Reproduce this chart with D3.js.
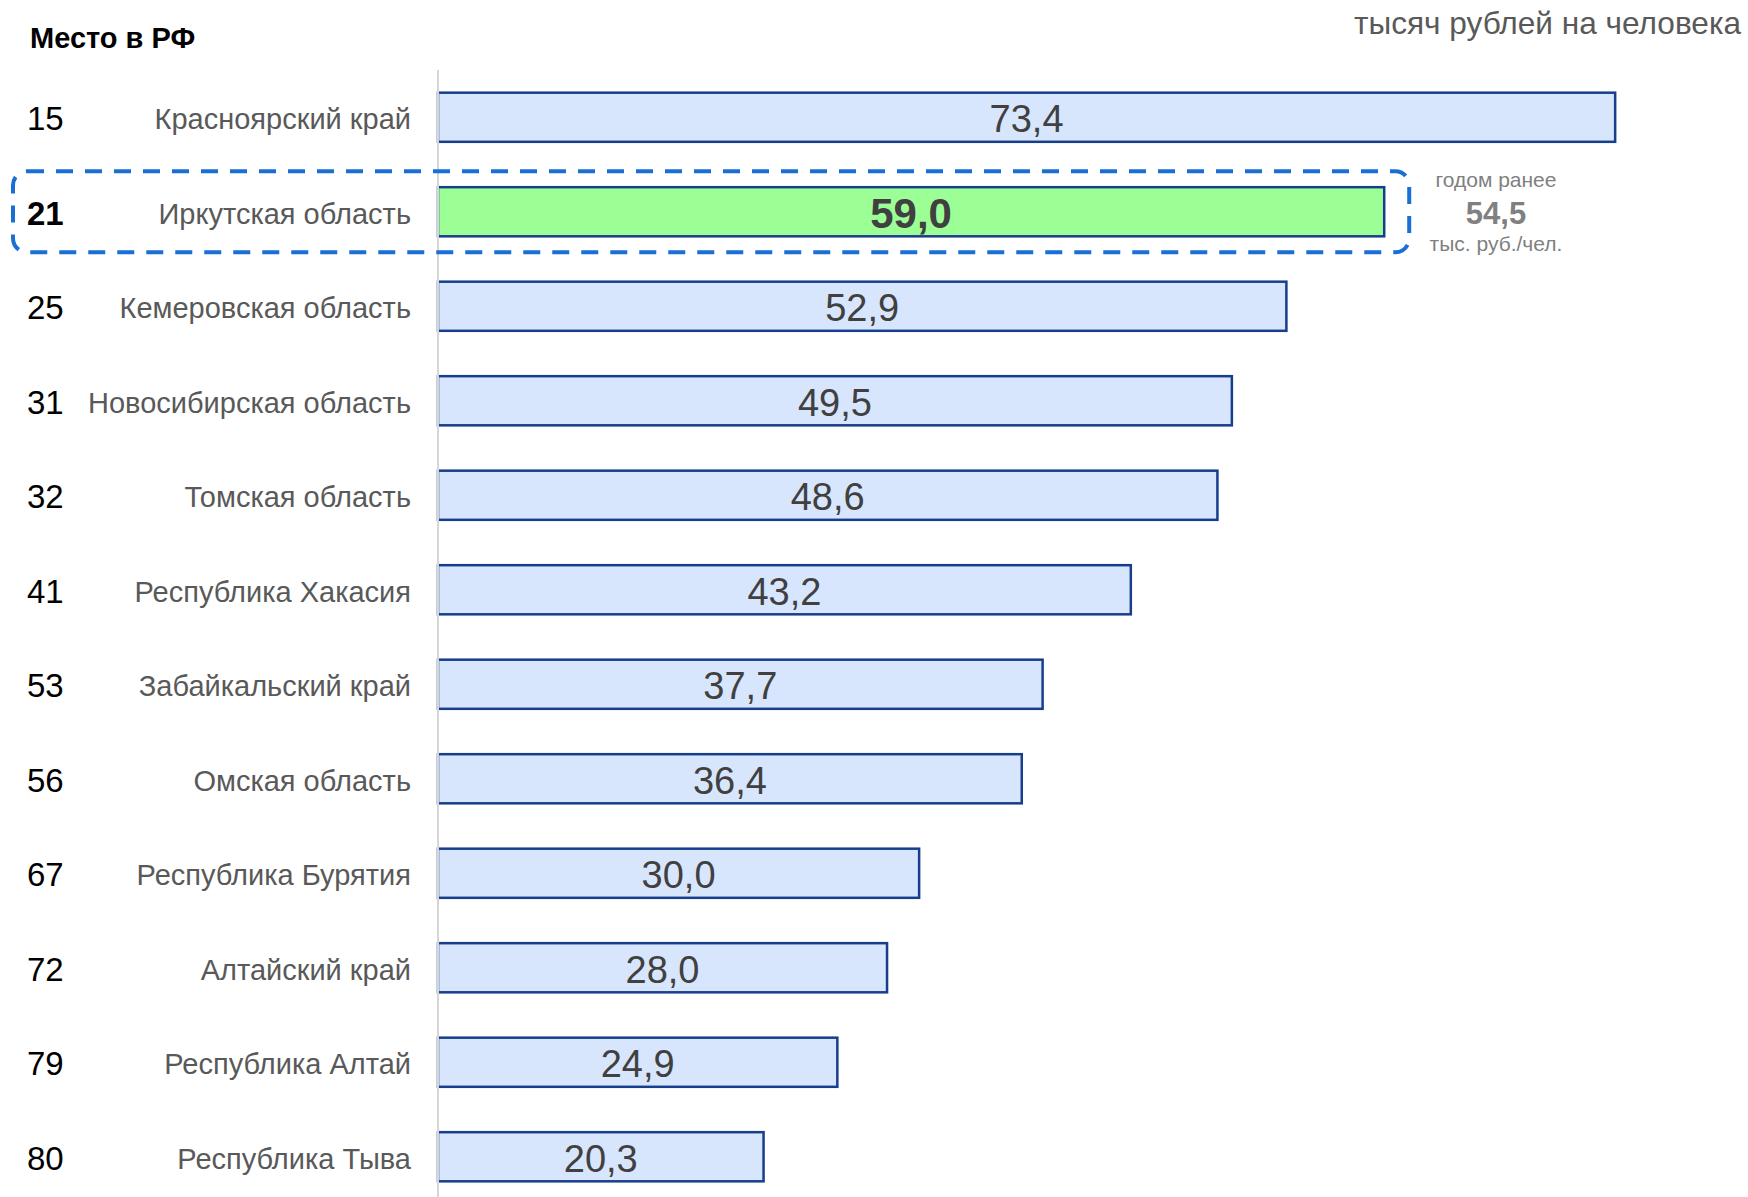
<!DOCTYPE html>
<html>
<head>
<meta charset="utf-8">
<script src="https://cdn.jsdelivr.net/npm/d3@7"></script>
<style>
  body { margin: 0; background: #fff; }
  svg text { font-family: "Liberation Sans", Arial, sans-serif; }
</style>
</head>
<body>
<svg id="chart" width="1748" height="1197"></svg>
<script>
const regions = [
  'Красноярский край', 'Иркутская область', 'Кемеровская область',
  'Новосибирская область', 'Томская область', 'Республика Хакасия',
  'Забайкальский край', 'Омская область', 'Республика Бурятия',
  'Алтайский край', 'Республика Алтай', 'Республика Тыва'
];
const ranks = [15, 21, 25, 31, 32, 41, 53, 56, 67, 72, 79, 80];
const values = [73.4, 59.0, 52.9, 49.5, 48.6, 43.2, 37.7, 36.4, 30.0, 28.0, 24.9, 20.3];
const highlight = 'Иркутская область';
const prevYear = 54.5;

const rows = regions.map((name, i) => ({name, rank: ranks[i], value: values[i]}));
const fmt = v => d3.format('.1f')(v).replace('.', ',');

const svg = d3.select('#chart');

const x = d3.scaleLinear().domain([0, 80]).range([438, 1721]);
const y = d3.scaleBand().domain(regions).range([70, 1204])
  .paddingInner(0.48).paddingOuter(0.24);

// header texts
svg.append('text')
  .attr('x', 30).attr('y', 48)
  .attr('font-size', 29).attr('font-weight', 'bold').attr('fill', '#000')
  .text('Место в РФ');

svg.append('text')
  .attr('x', 1741).attr('y', 34)
  .attr('text-anchor', 'end')
  .attr('font-size', 31.6).attr('fill', '#595959')
  .text('тысяч рублей на человека');

// bars
svg.append('g')
  .selectAll('rect')
  .data(rows)
  .enter()
  .append('rect')
  .attr('x', x(0))
  .attr('y', d => y(d.name))
  .attr('width', d => x(d.value) - x(0))
  .attr('height', y.bandwidth())
  .attr('fill', d => d.name === highlight ? '#9bff96' : '#d7e6fd')
  .attr('stroke', '#173e8c')
  .attr('stroke-width', 2.5);

// vertical axis line
svg.append('line')
  .attr('x1', x(0)).attr('x2', x(0))
  .attr('y1', 70).attr('y2', 1197)
  .attr('stroke', '#d6d6d6')
  .attr('stroke-width', 2);

// value labels
svg.append('g')
  .selectAll('text')
  .data(rows)
  .enter()
  .append('text')
  .attr('x', d => (x(0) + x(d.value)) / 2)
  .attr('y', d => y(d.name) + y.bandwidth() / 2 + (d.name === highlight ? 16 : 15))
  .attr('text-anchor', 'middle')
  .attr('font-size', d => d.name === highlight ? 42 : 38)
  .attr('font-weight', d => d.name === highlight ? 'bold' : 'normal')
  .attr('fill', '#404040')
  .text(d => fmt(d.value));

// region names
svg.append('g')
  .selectAll('text')
  .data(rows)
  .enter()
  .append('text')
  .attr('x', 411)
  .attr('y', d => y(d.name) + y.bandwidth() / 2 + 12)
  .attr('text-anchor', 'end')
  .attr('font-size', 29)
  .attr('fill', '#595959')
  .text(d => d.name);

// ranks
svg.append('g')
  .selectAll('text')
  .data(rows)
  .enter()
  .append('text')
  .attr('x', 27)
  .attr('y', d => y(d.name) + y.bandwidth() / 2 + 13)
  .attr('font-size', 33)
  .attr('font-weight', d => d.name === highlight ? 'bold' : 'normal')
  .attr('fill', '#000')
  .text(d => d.rank);

// dashed frame round the highlighted row
const hy = y(highlight);
const hv = values[regions.indexOf(highlight)];
svg.append('rect')
  .attr('x', 13)
  .attr('y', hy - 16)
  .attr('width', x(hv) + 25 - 13)
  .attr('height', y.bandwidth() + 32)
  .attr('rx', 14)
  .attr('fill', 'none')
  .attr('stroke', '#1a6fd4')
  .attr('stroke-width', 4)
  .attr('stroke-dasharray', '17 12');

// previous year note
const nx = 1496;
svg.append('text')
  .attr('x', nx).attr('y', hy)
  .attr('text-anchor', 'middle')
  .attr('font-size', 21).attr('fill', '#808080')
  .text('годом ранее');
svg.append('text')
  .attr('x', nx).attr('y', hy + 37)
  .attr('text-anchor', 'middle')
  .attr('font-size', 31).attr('font-weight', 'bold').attr('fill', '#808080')
  .text(fmt(prevYear));
svg.append('text')
  .attr('x', nx).attr('y', hy + 64)
  .attr('text-anchor', 'middle')
  .attr('font-size', 21).attr('fill', '#808080')
  .text('тыс. руб./чел.');
</script>
</body>
</html>
